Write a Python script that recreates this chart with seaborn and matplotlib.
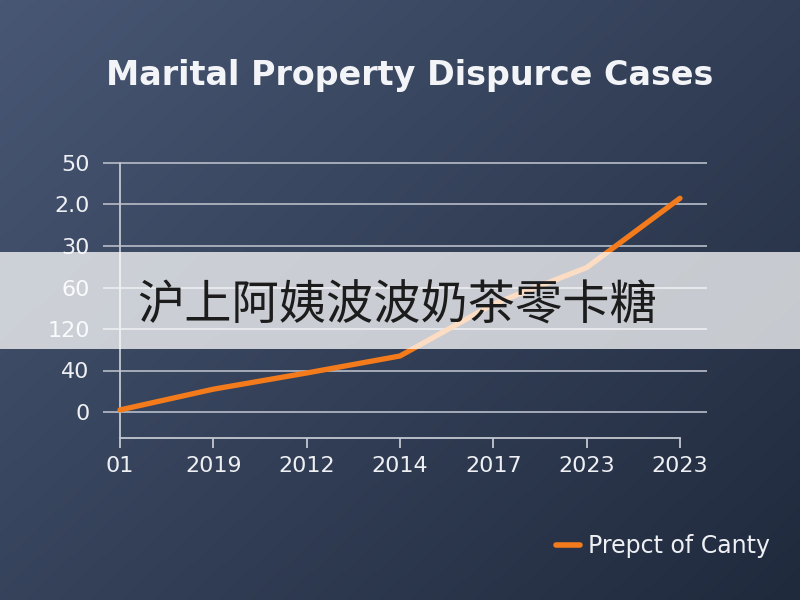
import numpy as np
import pandas as pd
import matplotlib
matplotlib.use("Agg")
import matplotlib.pyplot as plt
import seaborn as sns
from matplotlib.patches import Rectangle

# ---- data ----
x_labels = ["01", "2019", "2012", "2014", "2017", "2023", "2023"]
y_tick_labels = ["0", "40", "120", "60", "30", "2.0", "50"]
values = [0.05, 0.55, 0.94, 1.35, 2.6, 3.48, 5.15]
series_name = "Prepct of Canty"
title = "Marital Property Dispurce Cases"
watermark = "沪上阿姨波波奶茶零卡糖"

df = pd.DataFrame({"pos": range(len(x_labels)), "value": values})

sns.set_theme(style="white")
plt.rcParams["font.family"] = ["DejaVu Sans", "Noto Sans CJK SC"]

W, H = 800, 600
fig = plt.figure(figsize=(8, 6), dpi=100)

# background gradient
bg = fig.add_axes([0, 0, 1, 1], zorder=-10)
xx, yy = np.meshgrid(np.linspace(0, 1, 200), np.linspace(0, 1, 150))
t = np.clip(0.55 * xx + 0.45 * yy, 0, 1)
c0 = np.array([0x48, 0x57, 0x74]) / 255.0
c1 = np.array([0x20, 0x2a, 0x3d]) / 255.0
img = c0[None, None, :] * (1 - t[..., None]) + c1[None, None, :] * t[..., None]
bg.imshow(img, aspect="auto", extent=[0, 1, 0, 1], origin="upper")
bg.set_axis_off()

# main axes
left, right = 103 / W, 707 / W
bottom, top = 1 - 438 / H, 1 - 161 / H
ax = fig.add_axes([left, bottom, right - left, top - bottom])
ax.set_facecolor("none")

line_color = "#f47b1c"
sns.lineplot(data=df, x="pos", y="value", ax=ax, color=line_color,
             linewidth=3.8, label=series_name, solid_capstyle="round",
             solid_joinstyle="round", zorder=5)

ax.set_xlim(-17 / 93.33, 6 + 27 / 93.33)
ymin = (412 - 438) / 41.5
ax.set_ylim(ymin, 6 + 2 / 41.5)

ax.set_xticks(range(len(x_labels)))
ax.set_xticklabels(x_labels)
ax.set_yticks(range(len(y_tick_labels)))
ax.set_yticklabels(y_tick_labels)
ax.set_xlabel("")
ax.set_ylabel("")

grid_color = "#aeb4c0"
axis_color = "#c3c8d0"
for yv in range(len(y_tick_labels)):
    ax.axhline(yv, color=grid_color, linewidth=1.3, zorder=1)

for s in ["top", "right", "left"]:
    ax.spines[s].set_visible(False)
ax.spines["bottom"].set_bounds(0, 6)
ax.spines["bottom"].set_color(axis_color)
ax.spines["bottom"].set_linewidth(1.3)
ax.axvline(0, ymin=0, ymax=(6 - ymin) / (6 + 2 / 41.5 - ymin),
           color=axis_color, linewidth=1.3, zorder=2)

ax.tick_params(axis="x", length=7.5, width=1.3, color=axis_color, pad=5.5,
               labelsize=16, labelcolor="#eef0f4", bottom=True)
ax.tick_params(axis="y", length=0, pad=9.5, labelsize=16, labelcolor="#eef0f4")

# legend
handles, labels = ax.get_legend_handles_labels()
ax.legend_.remove()
leg = fig.legend(handles, labels, loc="center left",
                 bbox_to_anchor=(556 / W, 1 - 546 / H),
                 frameon=False, fontsize=17, handlelength=1.0,
                 handletextpad=0.35, borderpad=0, borderaxespad=0,
                 labelcolor="#eef0f4")
for h in leg.get_lines():
    h.set_linewidth(4)
    h.set_solid_capstyle("round")

# title
fig.text(410 / W, 1 - 76 / H, title, ha="center", va="center",
         fontsize=24, fontweight="bold", color="#f2f4f7",
         family=["DejaVu Sans"])

# watermark band
fig.add_artist(Rectangle((0, 1 - 349 / H), 1, 97 / H, transform=fig.transFigure,
                         facecolor="white", edgecolor="none", alpha=0.74,
                         zorder=20))
fig.text(137 / W, 1 - 306 / H, watermark, ha="left", va="center",
         fontsize=34, color="#1c1c1c", family=["Noto Sans CJK SC"], zorder=30)

fig.savefig("out.png", dpi=100)
